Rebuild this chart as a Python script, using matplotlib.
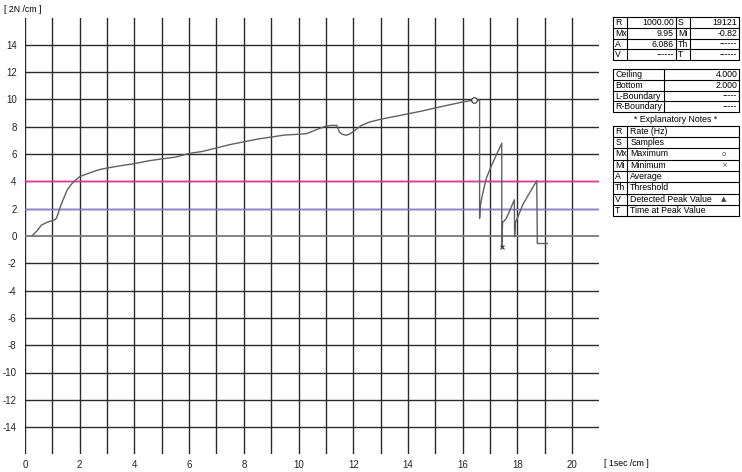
import matplotlib.pyplot as plt
import numpy as np

plt.rcParams['font.family'] = ['Liberation Sans', 'DejaVu Sans']
plt.rcParams['axes.unicode_minus'] = False

# force trace, time in s (1 s / cm) and force in N (2 N / cm)
time = [0.25, 0.45, 0.6, 0.8, 0.95, 1.05, 1.15, 1.25, 1.4, 1.55, 1.7, 1.85,
        2.0, 2.2, 2.4, 2.7, 3.0, 3.5, 4.0, 4.5, 5.0, 5.5, 6.0, 6.5, 7.0, 7.5,
        8.0, 8.5, 9.0, 9.5, 10.0, 10.3, 10.6, 11.0, 11.2, 11.4, 11.5, 11.6,
        11.75, 11.9, 12.1, 12.3, 12.6, 13.0, 13.5, 14.0, 14.5, 15.0, 15.5,
        16.0, 16.4, 16.62, 16.62, 16.64, 16.7, 16.86, 17.0, 17.2, 17.43,
        17.43, 17.46, 17.52, 17.6, 17.75, 17.89, 17.9, 17.93, 18.0, 18.2,
        18.4, 18.71, 18.73, 19.1]
force = [0.0, 0.4, 0.8, 1.0, 1.1, 1.15, 1.3, 1.9, 2.7, 3.4, 3.8, 4.1,
         4.35, 4.5, 4.65, 4.85, 4.98, 5.15, 5.3, 5.5, 5.65, 5.78, 6.05, 6.2,
         6.45, 6.7, 6.9, 7.1, 7.25, 7.4, 7.45, 7.5, 7.75, 8.05, 8.1, 8.1,
         7.6, 7.45, 7.38, 7.5, 7.8, 8.1, 8.35, 8.55, 8.75, 8.95, 9.15, 9.38,
         9.6, 9.82, 9.95, 9.95, 1.3, 2.1, 2.8, 4.2, 4.9, 5.8, 6.8,
         -0.82, 1.0, 1.1, 1.3, 2.0, 2.65, -0.05, 1.0, 1.3, 2.3,
         3.0, 4.05, -0.55, -0.55]

ceiling = 4.0
bottom = 2.0

summary = [('R', '1000.00', 'S', '19121'),
           ('Mx', '9.95', 'Mi', '-0.82'),
           ('A', '6.086', 'Th', '------'),
           ('V', '------', 'T', '------')]
bounds = [('Ceiling', '4.000'), ('Bottom', '2.000'),
          ('L-Boundary', '-----'), ('R-Boundary', '-----')]
notes = [('R', 'Rate (Hz)', ''), ('S', 'Samples', ''),
         ('Mx', 'Maximum', 'o'), ('Mi', 'Minimum', '×'),
         ('A', 'Average', ''), ('Th', 'Threshold', ''),
         ('V', 'Detected Peak Value', '▲'), ('T', 'Time at Peak Value', '')]

fig = plt.figure(figsize=(7.42, 4.72), dpi=100)
ax = fig.add_axes([25 / 742, (472 - 454.4) / 472, 574.4 / 742, 436.8 / 472])
ax.set_xlim(0, 21)
ax.set_ylim(-16, 16)
for s in ax.spines.values():
    s.set_visible(False)

grid_c = '#2a2a2a'
for x in range(0, 21):
    ax.plot([x, x], [-16, 16], color=grid_c, lw=1, zorder=1)
for y in range(-14, 15, 2):
    ax.plot([0, 21], [y, y], color='#7a7a7a' if y == 0 else grid_c,
            lw=1.3 if y == 0 else 1, zorder=1)
ax.plot([0, 21], [ceiling, ceiling], color='#ff2a9e', lw=1, zorder=2)
ax.plot([0, 21], [bottom, bottom], color='#8a86e0', lw=1, zorder=2)

ax.plot(time, force, color='#606060', lw=1, zorder=3)
f = np.array(force)
imax, imin = int(np.argmax(f)), int(np.argmin(f))
ax.plot(time[imax], f[imax], marker='o', ms=4, mfc='white', mec='#333333', mew=0.8, zorder=4)
ax.plot(time[imin], f[imin], marker='x', ms=3.5, color='#333333', mew=0.8, zorder=4)

ax.set_xticks(range(0, 21, 2))
ax.set_yticks(range(-14, 15, 2))
ax.tick_params(length=0, labelsize=7, colors='#222222')
ax.tick_params(axis='y', pad=6)
ax.tick_params(axis='x', pad=4)

# side panel drawn in pixel coordinates
pan = fig.add_axes([0, 0, 1, 1], zorder=5)
pan.set_xlim(0, 742)
pan.set_ylim(472, 0)
pan.axis('off')
pan.patch.set_alpha(0)

pan.text(4, 9, '[ 2N /cm ]', fontsize=6.3, va='center', ha='left')
pan.text(604, 464, '[ 1sec /cm ]', fontsize=6.3, va='center', ha='left')

fs = 6.3
L, R = 613.3, 739.3


def box(top, nrows, rh, cols):
    bot = top + nrows * rh
    pan.plot([L, R, R, L, L], [top, top, bot, bot, top], color='black', lw=0.8)
    for i in range(1, nrows):
        pan.plot([L, R], [top + i * rh, top + i * rh], color='black', lw=0.8)
    for c in cols:
        pan.plot([c, c], [top, bot], color='black', lw=0.8)


rh = 10.7
top1 = 17.3
box(top1, 4, rh, [626.7, 676, 690])
for i, (k1, v1, k2, v2) in enumerate(summary):
    yc = top1 + (i + 0.5) * rh
    pan.text(L + 2, yc, k1, fontsize=fs, va='center')
    pan.text(676 - 2, yc, v1, fontsize=fs, va='center', ha='right')
    pan.text(690 - 12, yc, k2, fontsize=fs, va='center')
    pan.text(R - 2, yc, v2, fontsize=fs, va='center', ha='right')

top2 = 69.3
box(top2, 4, rh, [664])
for i, (k, v) in enumerate(bounds):
    yc = top2 + (i + 0.5) * rh
    pan.text(L + 2, yc, k, fontsize=fs, va='center')
    pan.text(R - 2, yc, v, fontsize=fs, va='center', ha='right')

pan.text(676, 119.5, '* Explanatory Notes *', fontsize=fs, va='center', ha='center')

top3 = 125.7
rh3 = 11.3
box(top3, 8, rh3, [627.3])
for i, (k, v, sym) in enumerate(notes):
    yc = top3 + (i + 0.5) * rh3
    pan.text(L + 2, yc, k, fontsize=fs, va='center')
    pan.text(627.3 + 3, yc, v, fontsize=fs, va='center')
    if sym:
        pan.text(724, yc, sym, fontsize=5, va='center', ha='center',
                 family=['DejaVu Sans'], color='#444444')

fig.savefig('out.png', dpi=100)
